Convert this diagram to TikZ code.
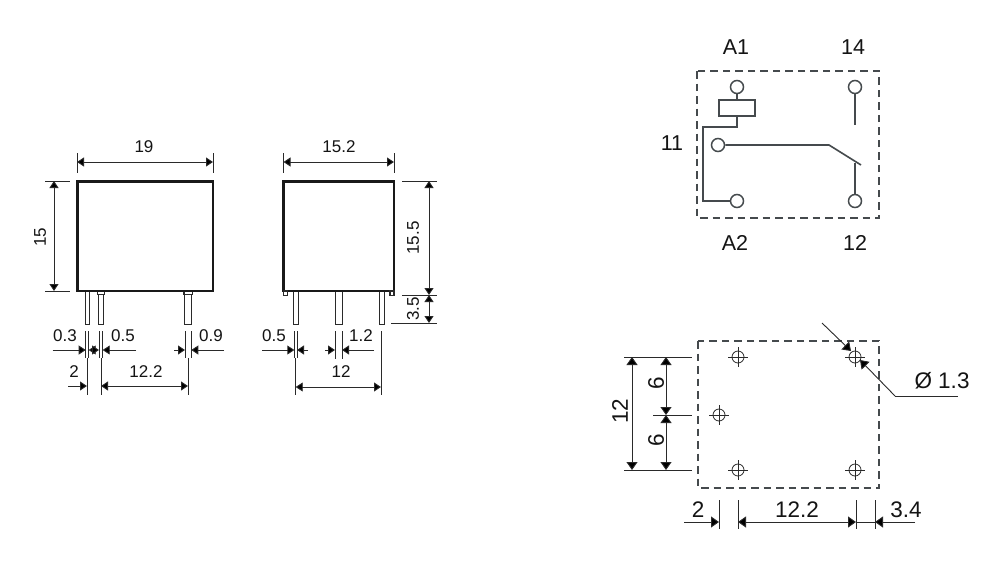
\documentclass[tikz,border=0pt]{standalone}
\usepackage{fontspec}
\setmainfont{Liberation Sans}
\usetikzlibrary{arrows.meta}
\definecolor{ink}{HTML}{2A2A2A}
\definecolor{wire}{HTML}{454A4D}
\tikzset{
  ttip/.tip={Triangle[length=7pt,width=9pt,fill=black]},
  btip/.tip={Triangle[length=8pt,width=11pt,fill=black]},
  ext/.style={line width=0.8pt,draw=ink},
  dimb/.style={line width=0.9pt,draw=ink,ttip-ttip},
  dimr/.style={line width=0.9pt,draw=ink,-ttip},
  bigb/.style={line width=0.9pt,draw=ink,btip-btip},
  bigr/.style={line width=0.9pt,draw=ink,-btip},
  dimplain/.style={line width=0.9pt,draw=ink},
  bodybox/.style={line width=2.4pt,draw=black!90,fill=white},
  pin/.style={line width=1pt,draw=ink,fill=white},
  tab/.style={line width=1.6pt,draw=ink,fill=white},
  dashbox/.style={line width=2.4pt,draw=wire,dash pattern=on 7.5pt off 5pt},
  wireline/.style={line width=1.6pt,draw=wire,line join=miter},
  term/.style={circle,draw=wire,line width=1.5pt,fill=white,minimum size=13pt,inner sep=0pt},
  coilbox/.style={draw=wire,line width=1.5pt,fill=white},
  hole/.style={line width=0.8pt,draw=ink},
  small/.style={font=\fontsize{17pt}{18pt}\selectfont,text=black!92,inner sep=0pt},
  mid/.style={font=\fontsize{22.5pt}{24pt}\selectfont,text=black!92,inner sep=0pt},
  big/.style={font=\fontsize{21.5pt}{23pt}\selectfont,text=black!92,inner sep=0pt}
}
\newcommand{\holemark}[2]{%
  \draw[hole] (#1,#2) circle (6);
  \draw[hole] (#1-10,#2) -- (#1+10,#2);
  \draw[hole] (#1,#2-10) -- (#1,#2+10);
}
\begin{document}
\begin{tikzpicture}[x=1pt,y=-1pt]
\useasboundingbox[fill=white] (0,0) rectangle (1000,581);

% ---- front view
\draw[pin] (85.3,291) rectangle (89.3,324);
\draw[pin] (98.7,291) rectangle (103.3,324);
\draw[pin] (184.7,291) rectangle (191.7,324);
\draw[tab] (97.5,291) rectangle (104.5,294.5);
\draw[tab] (184,291) rectangle (192.5,294.5);
\draw[bodybox] (77.5,181.5) rectangle (213,291);

\draw[ext] (77,153) -- (77,173);
\draw[ext] (213,153) -- (213,173);
\draw[dimb] (77,162) -- (213,162);
\node[small] (t19) at (144,147) {19};
\draw[ext] (45,181) -- (70,181);
\draw[ext] (45,291) -- (70,291);
\draw[dimb] (54,181) -- (54,291);
\node[small,rotate=90] (t15) at (40,237) {15};

\foreach \x in {85.7,88.7,99,102.7,185,191.3} \draw[ext] (\x,331) -- (\x,358);
\draw[dimr] (52.7,350) -- (85.7,350);
\draw[dimb] (88.7,350) -- (99,350);
\draw[dimr] (136,350) -- (102.7,350);
\draw[dimr] (174,350) -- (185,350);
\draw[dimr] (224,350) -- (191.3,350);
\foreach \x in {87,101,188} \draw[ext] (\x,358) -- (\x,395);
\draw[dimr] (68,386) -- (87,386);
\draw[dimb] (101,386) -- (188,386);
\node[small] (t03) at (65,336) {0.3};
\node[small] (t05a) at (123,336) {0.5};
\node[small] (t09) at (211,336) {0.9};
\node[small] (t2a) at (74,372) {2};
\node[small] (t122a) at (146,372) {12.2};

% ---- side view
\draw[pin] (293.7,291) rectangle (298,324);
\draw[pin] (335,291) rectangle (342.3,324);
\draw[pin] (379.3,291) rectangle (384,324);
\draw[bodybox] (283.5,181.5) -- (394,181.5) -- (394,291) -- (283.5,291) -- cycle;
\draw[tab] (283.5,291) rectangle (287.5,295.5);
\draw[tab] (390,291) rectangle (394,295.5);

\draw[ext] (283.5,153) -- (283.5,173);
\draw[ext] (394,153) -- (394,173);
\draw[dimb] (283.5,162) -- (394,162);
\node[small] (t152) at (339,147) {15.2};
\draw[ext] (402,181) -- (437,181);
\draw[ext] (402,295) -- (437,295);
\draw[ext] (391,323) -- (437,323);
\draw[dimb] (429,181) -- (429,295);
\draw[dimb] (429,295) -- (429,323);
\node[small,rotate=90] (t155) at (413,238) {15.5};
\node[small,rotate=90] (t35) at (413,309) {3.5};

\foreach \x in {294.3,297} \draw[ext] (\x,331) -- (\x,358);
\foreach \x in {335,342} \draw[ext] (\x,331) -- (\x,359);
\draw[dimr] (262,350) -- (294.3,350);
\draw[dimr] (308,350) -- (297,350);
\draw[dimr] (325,350) -- (335,350);
\draw[dimr] (374,350) -- (342,350);
\draw[ext] (295.7,358) -- (295.7,395);
\draw[ext] (381,331) -- (381,395);
\draw[dimb] (295.7,387) -- (381,387);
\node[small] (t05b) at (274,336) {0.5};
\node[small] (t12a) at (361,336) {1.2};
\node[small] (t12b) at (341,372) {12};

% ---- schematic
\draw[dashbox] (697,71) rectangle (879,218);
\node[term] (a1) at (737,87) {};
\node[term] (n14) at (855,87) {};
\node[term] (n11) at (718,145) {};
\node[term] (a2) at (737,201) {};
\node[term] (n12) at (855,201) {};
\node[coilbox,minimum width=36pt,minimum height=16pt,inner sep=0pt] (coil) at (737,108) {};
\coordinate (c14) at (855,125);
\coordinate (bend) at (829,145);
\coordinate (blade) at (861,165);
\coordinate (c12) at (855,163);
\draw[wireline] (a1) -- (coil);
\draw[wireline] (coil.south) -- (737,127) -- (703,127) -- (703,201) -- (a2);
\draw[wireline] (n14) -- (c14);
\draw[wireline] (n11) -- (bend) -- (blade);
\draw[wireline] (n12) -- (c12);
\node[big] (la1) at (736,47) {A1};
\node[big] (l14) at (853,47) {14};
\node[big] (l11) at (672,143) {11};
\node[big] (la2) at (735,243) {A2};
\node[big] (l12) at (855,243) {12};

% ---- footprint
\draw[dashbox] (698,341) rectangle (879,488);
\holemark{738}{357}
\holemark{855}{357}
\holemark{719}{415}
\holemark{738}{470}
\holemark{855}{470}

\draw[ext] (624,357) -- (692,357);
\draw[ext] (653,415) -- (692,415);
\draw[ext] (624,470) -- (692,470);
\draw[bigb] (632,357) -- (632,470);
\draw[bigb] (666,357) -- (666,415);
\draw[bigb] (666,415) -- (666,470);
\node[mid,rotate=90] (t12c) at (620,411) {12};
\node[mid,rotate=90] (t6a) at (656,383) {6};
\node[mid,rotate=90] (t6b) at (656,440) {6};

\foreach \x in {719,738,856,875} \draw[ext] (\x,500) -- (\x,529);
\draw[bigr] (684,522) -- (719,522);
\draw[bigb] (738,522) -- (856,522);
\draw[dimplain] (856,522) -- (875,522);
\draw[bigr] (915,522) -- (875,522);
\node[mid] (t2b) at (698,510) {2};
\node[mid] (t122b) at (797,510) {12.2};
\node[mid] (t34) at (906,510) {3.4};

\coordinate (ls) at (822,323);
\coordinate (tipa) at (851,351);
\coordinate (tipb) at (860,360);
\coordinate (lk) at (895,396);
\coordinate (le) at (958,396);
\draw[bigr] (ls) -- (tipa);
\draw[bigr] (lk) -- (tipb);
\draw[dimplain] (lk) -- (le);
\node[mid] (tphi) at (942,381) {Ø 1.3};
\end{tikzpicture}
\end{document}
